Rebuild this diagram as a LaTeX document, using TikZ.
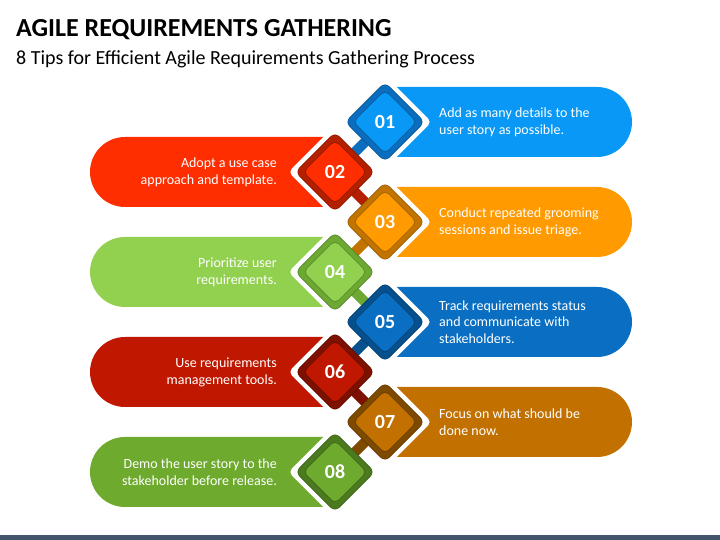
\documentclass[tikz,border=0pt]{standalone}
\usepackage{fontspec}
\setmainfont{Carlito}
\usepackage{xcolor}
\usepackage{tikz}
\usetikzlibrary{shapes.geometric, positioning}

\definecolor{tipfill1}{HTML}{0998F5}
\definecolor{tipfill2}{HTML}{FE2E00}
\definecolor{tipfill3}{HTML}{FF9A00}
\definecolor{tipfill4}{HTML}{92D050}
\definecolor{tipfill5}{HTML}{0A6FC2}
\definecolor{tipfill6}{HTML}{C01800}
\definecolor{tipfill7}{HTML}{C27000}
\definecolor{tipfill8}{HTML}{6DAA2D}
\definecolor{tipframe1}{HTML}{0B6DBE}
\definecolor{tipframe2}{HTML}{B41F00}
\definecolor{tipframe3}{HTML}{C27400}
\definecolor{tipframe4}{HTML}{6CA832}
\definecolor{tipframe5}{HTML}{06508E}
\definecolor{tipframe6}{HTML}{7E1000}
\definecolor{tipframe7}{HTML}{7E4A00}
\definecolor{tipframe8}{HTML}{4C7A1E}
\definecolor{footer}{HTML}{44546A}

\tikzstyle{outline} = [rectangle, rotate=45, minimum size=66pt, rounded corners=5pt, inner sep=0pt, fill=white]
\tikzstyle{frame} = [rectangle, rotate=45, minimum size=56pt, rounded corners=6pt, inner sep=0pt, line width=0.6pt]
\tikzstyle{inner} = [rectangle, rotate=45, minimum size=45pt, rounded corners=5pt, inner sep=0pt, line width=0.8pt]
\tikzstyle{num} = [text=white, font=\bfseries\fontsize{20}{20}\selectfont]
\tikzstyle{stub} = [line width=10pt]
\tikzstyle{tipright} = [text=white, inner sep=0pt, align=left, font=\fontsize{14}{16.8}\selectfont]
\tikzstyle{tipleft} = [text=white, inner sep=0pt, align=right, font=\fontsize{14}{16.8}\selectfont]

\begin{document}
\begin{tikzpicture}[x=1pt, y=1pt, node distance=54pt]
    \useasboundingbox (0,0) rectangle (720,540);

    % title
    \node (title) [anchor=base west, inner sep=0pt, font=\bfseries\fontsize{26}{26}\selectfont] at (16,503) {AGILE REQUIREMENTS GATHERING};
    \node (subtitle) [anchor=base west, inner sep=0pt, font=\fontsize{20}{20}\selectfont] at (16,475) {8 Tips for Efficient Agile Requirements Gathering Process};

    % diamond centres
    \foreach \i/\cx in {1/385,2/335,3/385,4/335,5/385,6/335,7/385,8/335}
        \coordinate (c\i) at (\cx, {418-50*(\i-1)});

    % bars
    \foreach \i in {1,3,5,7}
        \fill [tipfill\i, shift={(c\i)}] (0,-35) -- (212,-35) arc[start angle=-90, end angle=90, radius=35] -- (0,35) -- cycle;
    \foreach \i in {2,4,6,8}
        \fill [tipfill\i, shift={(c\i)}] (0,-35) -- (-210,-35) arc[start angle=270, end angle=90, radius=35] -- (0,35) -- cycle;

    % white outlines
    \foreach \i in {1,...,8}
        \node (o\i) [outline] at (c\i) {};

    % stubs
    \foreach \i [evaluate=\i as \j using int(\i+1)] in {1,...,7}
        \draw [stub, tipframe\i] (c\i) -- (c\j);

    % diamonds
    \foreach \i in {1,...,8} {
        \node (f\i) [frame, fill=tipframe\i, draw=tipframe\i!80!black] at (c\i) {};
        \node (s\i) [inner, fill=tipfill\i, draw=tipframe\i!85!black] at (c\i) {};
        \node (n\i) [num] at (c\i) {0\i};
    }

    % tips
    \node (t1) [tipright, right=of c1] {Add as many details to the\\user story as possible.};
    \node (t2) [tipleft, left=58pt of c2] {Adopt a use case\\approach and template.};
    \node (t3) [tipright, right=of c3] {Conduct repeated grooming\\sessions and issue triage.};
    \node (t4) [tipleft, left=58pt of c4] {Prioritize user\\requirements.};
    \node (t5) [tipright, right=of c5] {Track requirements status\\and communicate with\\stakeholders.};
    \node (t6) [tipleft, left=58pt of c6] {Use requirements\\management tools.};
    \node (t7) [tipright, right=of c7] {Focus on what should be\\done now.};
    \node (t8) [tipleft, left=58pt of c8] {Demo the user story to the\\stakeholder before release.};

    % footer
    \fill [footer] (0,0) rectangle (720,5);
\end{tikzpicture}
\end{document}
